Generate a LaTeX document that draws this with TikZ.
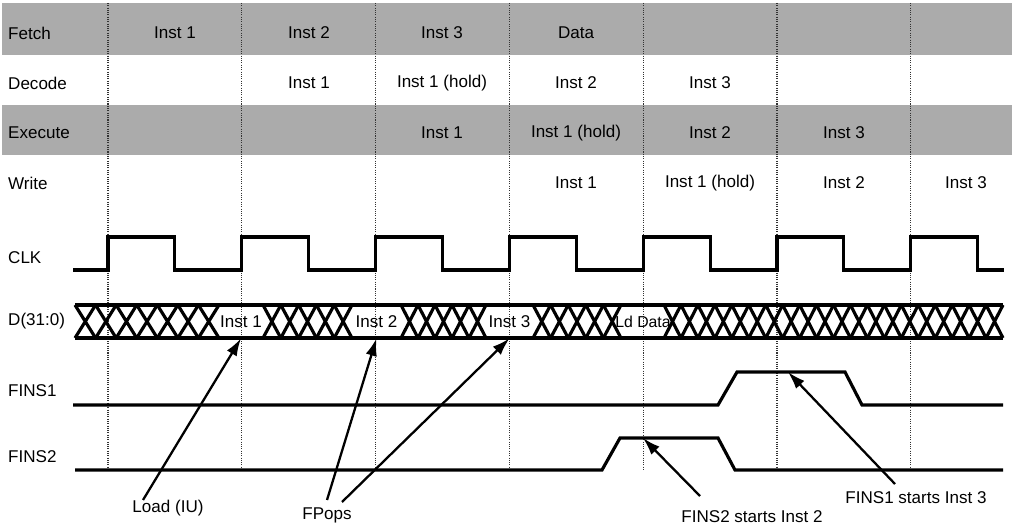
\documentclass[tikz,border=0pt]{standalone}
\usepackage{fontspec}
\setmainfont{Liberation Sans}
\usetikzlibrary{arrows.meta,calc}

\begin{document}
\begin{tikzpicture}[x=0.02cm,y=-0.02cm,
  every node/.style={font=\fontsize{9.7}{11.5}\selectfont},
  band/.style={fill=black!33,draw=none},
  divider/.style={line width=0.7pt,black!80,dash pattern=on 0.6pt off 0.7pt},
  wave/.style={line width=1.8pt,line join=miter},
  pointer/.style={line width=1.3pt,-{Latex[length=10pt,width=6.5pt]}},
  busword/.style={inner sep=0pt,minimum height=0.66cm}]

\useasboundingbox (0,0) rectangle (1017,526);

% shaded stage rows
\fill[band] (2,3) rectangle (1012,55);
\fill[band] (2,105) rectangle (1012,155);

% clock boundaries
\foreach \k in {0,...,6}
  \draw[divider] ({108+133.8*\k},3) -- ({108+133.8*\k},470);

% row labels
\foreach \n/\y/\txt in {fetch/33/Fetch,decode/83/Decode,execute/133/Execute,write/183/Write,
                        clk/258/CLK,dbus/321/D(31:0),fins1/391/FINS1,fins2/457/FINS2}
  \node[anchor=west] (\n) at (2,\y) {\txt};

% pipeline contents
\foreach \n/\x/\y/\txt in {f1/175/33/Inst 1,f2/309/33/Inst 2,f3/442/33/Inst 3,f4/576/33/Data,
                           d2/309/83/Inst 1,d3/442/83/Inst 1 (hold),d4/576/83/Inst 2,d5/710/83/Inst 3,
                           e3/442/133/Inst 1,e4/576/133/Inst 1 (hold),e5/710/133/Inst 2,e6/844/133/Inst 3,
                           w4/576/183/Inst 1,w5/710/183/Inst 1 (hold),w6/844/183/Inst 2,w7/966/183/Inst 3}
  \node (\n) at (\x,\y) {\txt};

% CLK
\draw[wave] (73,270) foreach \k in {0,...,6} {
    -- ({108+133.8*\k},270) -- ({108+133.8*\k},237)
    -- ({174.9+133.8*\k},237) -- ({174.9+133.8*\k},270) } -- (1004,270);

% data bus
\draw[wave] (75,305) -- (1003,305) (75,338) -- (1003,338);
\foreach \a/\b/\m in {75/219/7,263/352/5,401/486/5,533/621/5,664/1003/20}
  \foreach \i in {1,...,\m}
    \draw[wave] ({\a+(\b-\a)*(\i-1)/\m},305) -- ({\a+(\b-\a)*\i/\m},338)
                ({\a+(\b-\a)*(\i-1)/\m},338) -- ({\a+(\b-\a)*\i/\m},305);

\node[busword] (inst1) at (241,321.5) {Inst 1};
\node[busword] (inst2) at (376.5,321.5) {Inst 2};
\node[busword] (inst3) at (509.5,321.5) {Inst 3};
\node[busword,font=\fontsize{9}{10.5}\selectfont] (lddata) at (643,321.5) {Ld Data};

% FINS1 / FINS2
\draw[wave] (73,405) -- (718,405) -- (737,372) -- (845,372) -- (862,405) -- (1003,405);
\draw[wave] (75,470) -- (602,470) -- (620,438) -- (718,438) -- (735,470) -- (1003,470);
\coordinate (f1go) at (788,372);
\coordinate (f2go) at (643,438);

% notes
\node (loadlbl) at (168,508) {Load (IU)};
\node (fpops) at (327,515) {FPops};
\node (f2note) at (752,517) {FINS2 starts Inst 2};
\node (f1note) at (916,498) {FINS1 starts Inst 3};

\draw[pointer] ($(loadlbl.center)+(-25,-8)$) -- (inst1.south);
\draw[pointer] ($(fpops.center)+(0,-15)$) -- (inst2.south);
\draw[pointer] ($(fpops.center)+(15,-13)$) -- (inst3.south);
\draw[pointer] ($(f2note.center)+(-52,-21)$) -- (f2go);
\draw[pointer] ($(f1note.center)+(-21,-14)$) -- (f1go);

\end{tikzpicture}
\end{document}
